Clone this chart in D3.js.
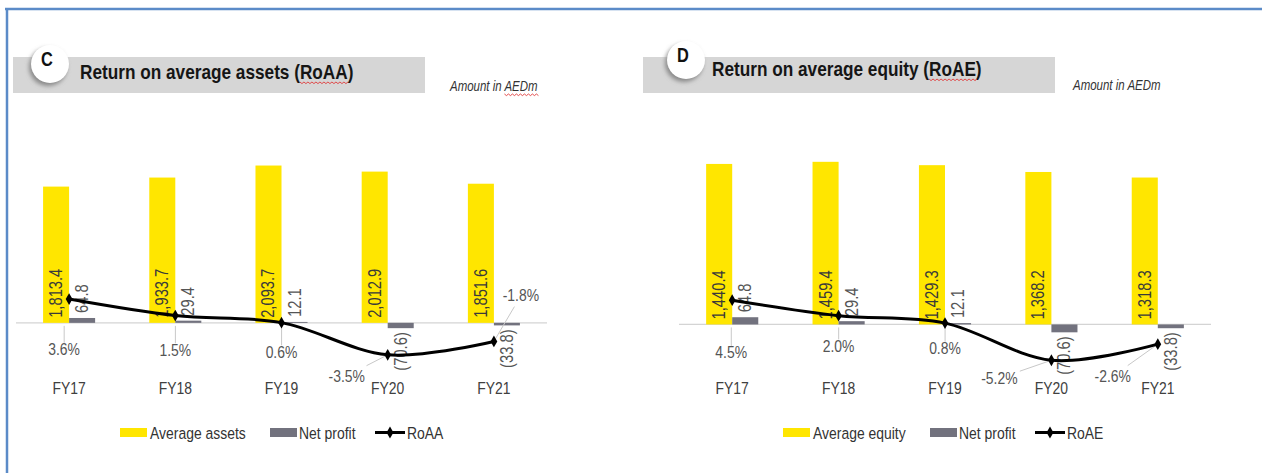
<!DOCTYPE html>
<html>
<head>
<meta charset="utf-8">
<script src="https://cdn.jsdelivr.net/npm/d3@7"></script>
<style>
  body { margin: 0; background: #fff; }
  text { font-family: "Liberation Sans", Arial, sans-serif; }
</style>
</head>
<body>
<div id="chart"></div>
<script>
const categories = ["FY17", "FY18", "FY19", "FY20", "FY21"];
const avgAssets = [1813.4, 1933.7, 2093.7, 2012.9, 1851.6];
const avgEquity = [1440.4, 1459.4, 1429.3, 1368.2, 1318.3];
const netProfit = [64.8, 29.4, 12.1, -70.6, -33.8];
const roaa = [3.6, 1.5, 0.6, -3.5, -1.8];
const roae = [4.5, 2.0, 0.8, -5.2, -2.6];

// label offsets from the line point (dx, dy of text baseline)
const roaaLabelPos = [[-5, 56], [0, 40], [0, 35], [-41, 27], [27, -40]];
const roaeLabelPos = [[-1, 58], [0, 36], [0, 31], [-52, 24], [-45, 38]];

const width = 1262, height = 473;
const NARROW = 0.82; // condensed look of the original (Arial Narrow)
const svg = d3.select("#chart").append("svg")
  .attr("width", width).attr("height", height);

const defs = svg.append("defs");
defs.append("filter").attr("id", "blur")
  .attr("x", "-50%").attr("y", "-50%").attr("width", "200%").attr("height", "200%")
  .append("feGaussianBlur").attr("stdDeviation", 2);

// frame
svg.append("line").attr("x1", 5).attr("x2", width).attr("y1", 9).attr("y2", 9)
  .attr("stroke", "#5b8bc8").attr("stroke-width", 2.5);
svg.append("line").attr("x1", 7).attr("x2", 7).attr("y1", 9).attr("y2", height)
  .attr("stroke", "#5b8bc8").attr("stroke-width", 2.5);

function label(x, y, str, size, opts = {}) {
  const rot = opts.rotate ? " rotate(-90)" : "";
  return svg.append("text")
    .attr("transform", `translate(${x},${y})${rot} scale(${NARROW},1)`)
    .attr("font-size", size)
    .attr("font-weight", opts.bold ? "bold" : null)
    .attr("font-style", opts.italic ? "italic" : null)
    .attr("text-anchor", opts.anchor || "start")
    .attr("fill", opts.fill || "#333")
    .text(str);
}

function squiggle(x, y, w) {
  let d = `M${x},${y}`;
  for (let i = 0; x + i * 2 < x + w; i++) d += `L${x + (i + 1) * 2},${y + (i % 2 ? 0 : 1.6)}`;
  svg.append("path").attr("d", d).attr("fill", "none").attr("stroke", "#e03a3a").attr("stroke-width", 0.9);
}

function drawPanel(o) {
  // title bar
  svg.append("rect").attr("x", o.barX).attr("y", 57).attr("width", 412).attr("height", 36)
    .attr("fill", "#d6d6d6");
  svg.append("circle").attr("cx", o.circle[0] - 2).attr("cy", o.circle[1] + 3).attr("r", 19)
    .attr("fill", "#8a8a8a").attr("filter", "url(#blur)");
  svg.append("circle").attr("cx", o.circle[0]).attr("cy", o.circle[1]).attr("r", 19)
    .attr("fill", "#fff");
  label(o.circle[0] - 3, o.circle[1] + 2, o.letter, 20, { bold: true, anchor: "middle", fill: "#111" });
  const title = label(o.titleX, o.titleY, o.title, 21, { bold: true, fill: "#151515" });
  const node = title.node();
  const start = o.title.indexOf("(") + 1;
  squiggle(o.titleX + node.getSubStringLength(0, start) * NARROW, o.titleY + 3,
    node.getSubStringLength(start, 4) * NARROW);

  const amt = label(o.amtX, o.amtY, "Amount in AEDm", 14, { italic: true });
  if (o.amtSquiggle) {
    const n = amt.node();
    squiggle(o.amtX + n.getSubStringLength(0, 10) * NARROW, o.amtY + 3, n.getSubStringLength(10, 4) * NARROW);
  }

  const x = d3.scaleBand().domain(categories).range(o.xRange).paddingInner(0.51).paddingOuter(0.255);
  const bw = x.bandwidth() / 2;
  const yBar = d3.scaleLinear().domain(o.barDomain).range([398, 135]);
  const yLine = d3.scaleLinear().domain(o.lineDomain).range([398, 135]);
  const cx = d => x(d) + bw;

  // x axis line
  svg.append("line").attr("x1", o.xRange[0]).attr("x2", o.xRange[1])
    .attr("y1", yBar(0)).attr("y2", yBar(0)).attr("stroke", "#d4d4d4").attr("stroke-width", 1.2);

  // bars
  svg.append("g").selectAll("rect").data(o.bars).join("rect")
    .attr("x", (d, i) => x(categories[i])).attr("width", bw)
    .attr("y", d => yBar(d)).attr("height", d => yBar(0) - yBar(d))
    .attr("fill", "#ffe600");
  svg.append("g").selectAll("rect").data(netProfit).join("rect")
    .attr("x", (d, i) => cx(categories[i])).attr("width", bw)
    .attr("y", d => yBar(Math.max(0, d))).attr("height", d => Math.abs(yBar(0) - yBar(d)))
    .attr("fill", "#72727e");

  const fmt = d3.format(",.1f");
  // bar labels (rotated, inside base)
  o.bars.forEach((d, i) => {
    label(x(categories[i]) + bw / 2 + 6, yBar(0) - 5, fmt(d), 18, { rotate: true, fill: "#3a3a3a" });
  });
  netProfit.forEach((d, i) => {
    const px = cx(categories[i]) + bw / 2 + 6;
    const py = d >= 0 ? yBar(d) - 5 : yBar(d) + 4;
    label(px, py, d >= 0 ? fmt(d) : `(${fmt(-d)})`, 18,
      { rotate: true, anchor: d >= 0 ? "start" : "end", fill: "#555" });
  });

  // category labels
  categories.forEach(c => label(cx(c), 394, c, 17, { anchor: "middle", fill: "#404040" }));

  // percentage labels and leaders
  const pts = o.line.map((v, i) => [cx(categories[i]), yLine(v)]);
  const lg = svg.append("g");
  o.line.forEach((d, i) => {
    const lx = pts[i][0] + o.labelPos[i][0], ly = pts[i][1] + o.labelPos[i][1];
    const t = label(lx, ly, d.toFixed(1) + "%", 17, { anchor: "middle", fill: "#555" });
    const bb = t.node().getBBox();
    const b = { x: lx + bb.x * NARROW, y: ly + bb.y, width: bb.width * NARROW, height: bb.height };
    const [px, py] = pts[i];
    const lcx = b.x + b.width / 2, lcy = b.y + b.height / 2;
    if (Math.abs(o.labelPos[i][0]) < 10) {
      lg.append("line").attr("x1", lcx).attr("x2", lcx)
        .attr("y1", yBar(0) + 3).attr("y2", b.y + 3)
        .attr("stroke", "#c8c8c8").attr("stroke-width", 1);
    } else {
      const dx = px - lcx, dy = py - lcy;
      const s = Math.min(b.width / 2 / Math.abs(dx), b.height / 2 / Math.abs(dy)) + 0.04;
      lg.append("line").attr("x1", lcx + dx * s).attr("y1", lcy + dy * s)
        .attr("x2", px - dx * 0.06).attr("y2", py - dy * 0.06)
        .attr("stroke", "#c8c8c8").attr("stroke-width", 1);
    }
  });

  // line
  svg.append("path").datum(pts)
    .attr("d", d3.line().curve(d3.curveCardinal.tension(0)))
    .attr("fill", "none").attr("stroke", "#000").attr("stroke-width", 3);
  svg.append("g").selectAll("path").data(pts).join("path")
    .attr("transform", d => `translate(${d[0]},${d[1]})`)
    .attr("d", d3.symbol(d3.symbolDiamond, 40)).attr("fill", "#000");

  // legend
  const L = o.legend;
  svg.append("rect").attr("x", L[0]).attr("y", 428).attr("width", 27).attr("height", 9).attr("fill", "#ffe600");
  label(L[0] + 30, 439, o.barName, 17);
  svg.append("rect").attr("x", L[1]).attr("y", 428).attr("width", 27).attr("height", 9).attr("fill", "#72727e");
  label(L[1] + 29, 439, "Net profit", 17);
  svg.append("line").attr("x1", L[2]).attr("x2", L[2] + 30).attr("y1", 432.5).attr("y2", 432.5)
    .attr("stroke", "#000").attr("stroke-width", 3);
  svg.append("path").attr("transform", `translate(${L[2] + 15},432.5)`)
    .attr("d", d3.symbol(d3.symbolDiamond, 40)).attr("fill", "#000");
  label(L[2] + 32, 439, o.lineName, 17);
}

drawPanel({
  barX: 13, circle: [50, 64], letter: "C", titleX: 80, titleY: 79,
  title: "Return on average assets (RoAA)", amtX: 450, amtY: 91, amtSquiggle: true,
  xRange: [16, 547], barDomain: [-1000, 2500], lineDomain: [-9, 24.5],
  bars: avgAssets, line: roaa, labelPos: roaaLabelPos,
  legend: [120, 270, 375], barName: "Average assets", lineName: "RoAA"
});
drawPanel({
  barX: 643, circle: [686, 60], letter: "D", titleX: 712, titleY: 76,
  title: "Return on average equity (RoAE)", amtX: 1073, amtY: 90, amtSquiggle: false,
  xRange: [679, 1211], barDomain: [-660, 1700], lineDomain: [-11.3, 31.2],
  bars: avgEquity, line: roae, labelPos: roaeLabelPos,
  legend: [783, 930, 1035], barName: "Average equity", lineName: "RoAE"
});
</script>
</body>
</html>
